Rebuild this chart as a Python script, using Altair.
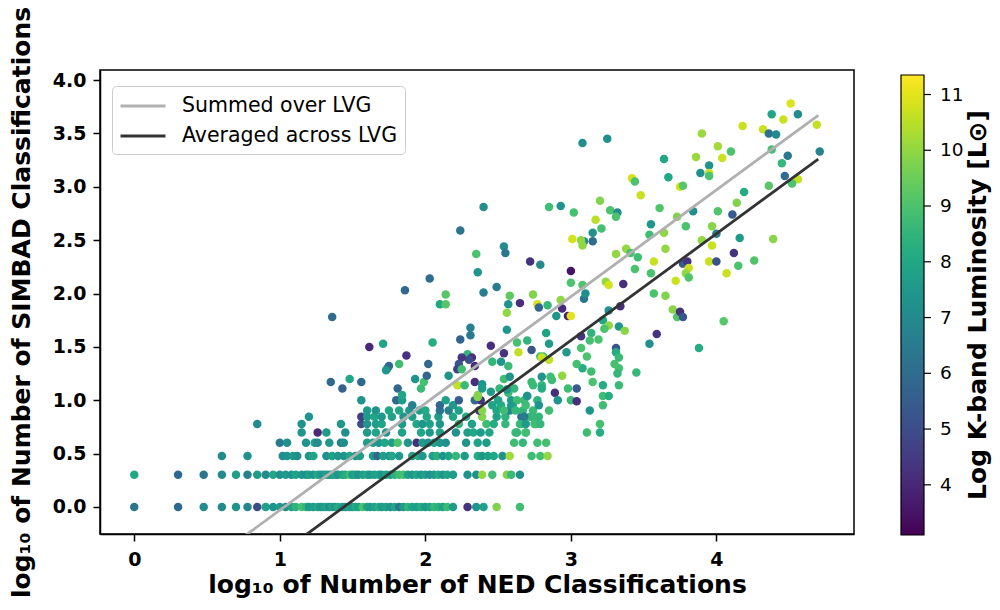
import altair as alt
import pandas as pd

# ---------------- data ----------------
# lower "discrete" rows: log10(SIMBAD count) values
row_y = [0.0, 0.301, 0.477, 0.602, 0.699, 0.778, 0.845, 0.903, 0.954, 1.0]

row0_x = [0, 0.301, 0.477, 0.602, 0.699, 0.778, 0.845, 0.903,
          0.954, 1.0, 1.04, 1.08, 1.11, 1.15, 1.18, 1.2, 1.23, 1.26,
          1.28, 1.3, 1.32, 1.34, 1.36, 1.38, 1.4, 1.43, 1.45, 1.48,
          1.5, 1.52, 1.54, 1.57, 1.6, 1.62, 1.65, 1.68, 1.7, 1.73,
          1.76, 1.79, 1.82, 1.85, 1.88, 1.91, 1.94, 1.97, 2.0, 2.03,
          2.06, 2.09, 2.12, 2.15, 2.19,
          2.29, 2.35, 2.40, 2.49, 2.65]
row0_L = [6.3, 5.9, 7.0, 7.0, 7.4, 6.9, 5.0, 7.8,
          7.3, 7.6, 7.2, 7.8, 8.4, 8.9, 8.6, 7.5, 7.7, 8.0,
          7.4, 7.6, 7.9, 7.2, 7.8, 7.5, 8.1, 7.6, 7.3, 7.9,
          7.5, 8.2, 7.8, 9.0, 8.0, 7.6, 7.9, 8.3, 7.6, 7.8,
          7.4, 8.0, 6.4, 7.6, 8.5, 7.9, 7.7, 8.2, 7.6, 7.9,
          8.6, 8.4, 7.9, 8.7, 7.6,
          4.3, 7.4, 7.8, 9.8, 8.8]

row1_x = [0, 0.301, 0.477, 0.602, 0.699, 0.778, 0.845, 0.903,
          0.954, 1.0, 1.04, 1.08, 1.11, 1.15, 1.18, 1.2, 1.23, 1.26,
          1.28, 1.3, 1.32, 1.34, 1.36, 1.38, 1.4, 1.43, 1.45, 1.48,
          1.5, 1.52, 1.54, 1.57, 1.6, 1.62, 1.65, 1.68, 1.7, 1.73,
          1.76, 1.79, 1.82, 1.85, 1.88, 1.91, 1.94, 1.97, 2.0, 2.03,
          2.06, 2.09, 2.12, 2.15, 2.19,
          2.29, 2.35, 2.39, 2.46, 2.56, 2.59, 2.65]
row1_L = [8.0, 5.9, 6.3, 7.0, 7.7, 6.6, 7.6, 7.0,
          8.0, 7.2, 7.6, 7.3, 7.9, 7.5, 7.2, 7.8, 7.4, 8.1,
          7.6, 7.3, 7.9, 7.5, 7.7, 8.0, 7.4, 7.8, 8.2, 8.8,
          7.6, 7.9, 7.3, 7.8, 8.1, 7.5, 7.7, 8.0, 7.4, 7.9,
          7.6, 8.3, 8.8, 8.9, 7.7, 7.5, 8.0, 7.4, 7.8, 7.2,
          7.6, 8.1, 7.4, 7.9, 7.6,
          7.3, 7.2, 10.0, 8.8, 9.8, 8.7, 7.2]

row2_x = [0.602, 0.778, 1.02, 1.05, 1.09, 1.12, 1.2, 1.23, 1.32, 1.36,
          1.4, 1.44, 1.48, 1.52, 1.55, 1.64, 1.67, 1.71, 1.75, 1.77,
          1.82, 1.91, 1.95, 1.98, 2.05, 2.08, 2.12, 2.16, 2.21, 2.27,
          2.36, 2.39, 2.43, 2.47, 2.53, 2.58, 2.73, 2.79, 2.84]
row2_L = [7.0, 7.2, 7.0, 7.3, 7.6, 7.2, 7.4, 7.9, 7.2, 7.8,
          7.5, 7.3, 8.0, 7.4, 7.7, 7.6, 5.8, 7.8, 7.4, 8.0,
          7.6, 7.9, 8.2, 7.5, 7.7, 8.3, 7.4, 7.9, 8.6, 7.6,
          8.2, 7.5, 7.8, 8.0, 7.3, 10.2, 8.8, 8.9, 10.0]

row3_x = [1.0, 1.05, 1.18, 1.24, 1.26, 1.34, 1.42, 1.44, 1.6, 1.64,
          1.68, 1.72, 1.77, 1.81, 1.88, 1.94, 1.98, 2.02, 2.06, 2.1,
          2.14, 2.28, 2.36, 2.42, 2.61, 2.67, 2.77, 2.83]
row3_L = [6.4, 7.2, 7.3, 7.8, 7.0, 7.5, 6.6, 7.2, 7.6, 7.8,
          7.4, 8.0, 7.6, 9.0, 7.4, 4.2, 7.6, 7.3, 7.9, 7.5,
          7.2, 7.4, 7.8, 7.6, 8.8, 8.6, 8.8, 8.9]

row4_x = [1.15, 1.26, 1.32, 1.45, 1.6, 1.66, 1.73, 1.84, 1.97, 2.03,
          2.1, 2.21, 2.29, 2.33, 2.38, 2.44, 2.62, 2.69]
row4_L = [7.4, 4.0, 7.6, 7.2, 7.6, 7.9, 7.4, 7.8, 8.0, 7.5,
          7.8, 7.3, 7.7, 8.0, 7.6, 7.9, 8.7, 8.8]

row5_x = [0.845, 1.15, 1.42, 1.56, 1.6, 1.66, 1.7, 1.84, 1.94, 1.98,
          2.03, 2.1, 2.23, 2.32, 2.42, 2.47, 2.55, 2.66, 2.76]
row5_L = [7.0, 7.3, 7.5, 5.0, 7.4, 7.7, 7.9, 7.6, 8.0, 7.4,
          7.8, 7.5, 8.6, 7.8, 8.8, 8.2, 8.6, 8.8, 8.5]

row6_x = [1.2, 1.56, 1.6, 1.65, 1.7, 1.77, 1.85, 1.91, 2.01, 2.09,
          2.19, 2.28, 2.39, 2.49, 2.55, 2.66, 2.72, 2.78]
row6_L = [7.3, 4.6, 7.6, 8.0, 7.5, 7.8, 7.4, 7.7, 8.0, 7.6,
          7.9, 8.2, 9.8, 7.8, 8.4, 6.0, 8.7, 8.6]

row7_x = [1.6, 1.66, 1.75, 1.82, 1.89, 1.96, 2.0, 2.1, 2.16, 2.23,
          2.37, 2.39, 2.49, 2.58, 2.67, 2.74, 2.85]
row7_L = [7.6, 7.3, 7.9, 8.0, 7.5, 7.7, 8.1, 6.3, 6.6, 7.8,
          4.3, 9.9, 8.0, 6.7, 8.5, 8.7, 8.8]

row8_x = [1.91, 2.1, 2.19, 2.46, 2.52, 2.6, 2.69]
row8_L = [6.6, 5.8, 7.5, 7.9, 8.2, 7.6, 8.8]

row9_x = [1.56, 1.8, 1.84, 2.14, 2.23, 2.34, 2.38, 2.5, 2.59, 2.68, 2.77]
row9_L = [7.3, 5.8, 7.6, 7.8, 5.5, 5.9, 4.3, 8.0, 7.6, 8.7, 8.5]

# scattered points (log10 NED, log10 SIMBAD, log K-band luminosity)
mid_points = [
    (2.40, 2.81, 7.2), (2.85, 2.81, 8.8), (2.93, 2.82, 7.3), (3.02, 2.76, 8.9),
    (2.24, 2.59, 6.3), (3.01, 2.51, 10.8), (2.54, 2.44, 7.0), (2.55, 2.38, 6.4),
    (2.35, 2.37, 9.0), (2.72, 2.30, 4.3), (2.79, 2.27, 7.0), (2.36, 2.20, 7.3),
    (3.00, 2.21, 3.5), (3.00, 2.10, 9.0), (2.03, 2.14, 6.0), (1.86, 2.03, 5.9),
    (2.49, 2.06, 6.5), (2.40, 2.01, 6.6), (2.58, 1.98, 9.3), (2.14, 1.99, 9.2),
    (2.74, 1.99, 9.8), (2.10, 1.90, 8.0), (2.14, 1.90, 9.2), (2.57, 1.90, 7.3),
    (2.65, 1.91, 4.2), (2.77, 1.90, 10.8), (2.78, 1.87, 5.8), (2.84, 1.89, 8.6),
    (2.93, 1.94, 10.0), (2.94, 1.86, 4.1), (2.56, 1.82, 10.0), (2.90, 1.79, 7.5),
    (2.98, 1.79, 3.8), (3.00, 1.79, 11.0), (1.36, 1.78, 6.0), (2.31, 1.68, 6.7),
    (2.31, 1.61, 6.5), (2.24, 1.57, 5.7), (2.56, 1.66, 7.5), (2.83, 1.63, 7.9),
    (1.615, 1.50, 4.0), (1.71, 1.53, 7.9), (2.05, 1.54, 8.2), (1.87, 1.42, 4.3),
    (2.45, 1.51, 4.2), (2.63, 1.54, 8.9), (2.70, 1.56, 8.5), (2.85, 1.53, 7.6),
    (2.73, 1.47, 5.3), (2.54, 1.44, 4.3), (2.64, 1.45, 10.6), (1.74, 1.30, 7.2),
    (1.75, 1.32, 5.9), (1.82, 1.34, 8.8), (2.02, 1.34, 5.8), (2.29, 1.43, 8.5),
    (2.32, 1.40, 4.3), (2.30, 1.38, 5.0), (2.25, 1.40, 4.4), (2.23, 1.34, 5.2),
    (2.22, 1.29, 4.6), (2.25, 1.29, 8.8), (2.34, 1.32, 4.2), (2.46, 1.36, 8.6),
    (2.52, 1.36, 7.4), (2.57, 1.32, 8.7), (2.79, 1.41, 8.7), (2.81, 1.41, 8.9),
    (2.97, 1.45, 7.5), (2.85, 1.38, 10.6), (2.94, 1.23, 10.0), (1.35, 1.17, 5.9),
    (1.43, 1.11, 5.6), (1.48, 1.20, 8.0), (1.56, 1.17, 5.9), (1.81, 1.11, 5.8),
    (1.84, 1.05, 8.0), (1.93, 1.20, 7.4), (1.97, 1.11, 8.7), (1.99, 1.17, 8.9),
    (2.01, 1.23, 5.9), (2.16, 1.23, 7.3), (2.22, 1.14, 10.6), (2.27, 1.14, 8.7),
    (2.34, 1.17, 4.2), (2.39, 1.15, 7.4), (2.36, 1.05, 9.9), (2.39, 1.11, 7.6),
    (2.45, 1.08, 7.6), (2.51, 1.11, 8.6), (2.57, 1.07, 8.7), (2.61, 1.11, 8.6),
    (2.70, 1.04, 8.8), (2.74, 1.14, 8.7), (2.80, 1.14, 8.5), (2.87, 1.19, 8.7),
    (2.89, 1.07, 4.2), (2.98, 1.11, 8.8), (3.04, 1.11, 5.5), (1.73, 1.28, 7.4),
    (2.54, 1.20, 8.8), (2.58, 1.22, 7.4), (2.73, 1.17, 8.7), (2.80, 1.22, 7.3),
    (2.56, 1.10, 7.4), (2.36, 1.03, 9.8),
]

upper_points = [
    (4.51, 3.78, 10.9), (4.38, 3.68, 8.0), (4.56, 3.68, 7.0), (4.46, 3.63, 10.7),
    (4.18, 3.57, 10.7), (4.32, 3.54, 10.7), (4.36, 3.50, 6.2), (4.41, 3.49, 7.0),
    (4.69, 3.58, 10.6), (3.90, 3.50, 10.1), (3.08, 3.41, 7.2), (3.25, 3.45, 7.2),
    (4.01, 3.38, 10.2), (4.10, 3.33, 9.0), (4.04, 3.27, 10.7), (3.86, 3.28, 10.1),
    (3.64, 3.26, 8.0), (4.38, 3.35, 8.9), (4.49, 3.29, 6.4), (4.71, 3.33, 6.8),
    (4.45, 3.22, 8.6), (3.95, 3.20, 7.3), (3.89, 3.13, 7.2), (3.95, 3.13, 10.7),
    (3.95, 3.10, 9.0), (4.47, 3.10, 6.0), (4.56, 3.07, 10.6), (4.52, 3.03, 9.0),
    (3.42, 3.08, 10.8), (3.44, 3.05, 9.0), (3.67, 3.09, 8.0), (3.75, 3.00, 10.8),
    (3.77, 3.01, 9.2), (3.48, 2.92, 10.7), (4.36, 3.01, 9.2), (4.19, 2.95, 8.2),
    (3.20, 2.87, 9.8), (3.27, 2.78, 9.0), (3.32, 2.76, 7.0), (3.31, 2.72, 9.0),
    (3.17, 2.69, 10.5), (3.21, 2.61, 8.9), (3.15, 2.57, 7.3), (3.15, 2.49, 6.0),
    (3.09, 2.49, 7.0), (3.07, 2.50, 10.0), (3.08, 2.45, 10.0), (3.61, 2.80, 9.1),
    (3.73, 2.72, 9.8), (3.84, 2.77, 7.2), (3.79, 2.63, 9.0), (3.55, 2.65, 7.5),
    (3.97, 2.63, 9.9), (4.01, 2.77, 9.1), (4.14, 2.85, 9.8), (4.11, 2.74, 5.5),
    (3.54, 2.55, 8.8), (3.64, 2.57, 10.0), (3.90, 2.50, 10.0), (3.97, 2.45, 10.7),
    (4.00, 2.56, 6.6), (4.16, 2.52, 7.6), (4.39, 2.51, 9.9), (3.65, 2.42, 10.0),
    (3.38, 2.42, 10.0), (3.41, 2.38, 8.9), (3.31, 2.37, 10.0), (3.46, 2.34, 8.8),
    (3.57, 2.30, 10.7), (3.77, 2.28, 5.5), (3.80, 2.30, 4.3), (3.95, 2.30, 10.7),
    (4.00, 2.30, 5.2), (4.12, 2.38, 4.3), (4.26, 2.31, 9.1), (4.15, 2.26, 9.0),
    (4.07, 2.19, 10.7), (3.81, 2.24, 10.7), (3.79, 2.19, 10.0), (3.44, 2.23, 9.0),
    (3.55, 2.19, 9.0),
]

lower_right_points = [
    (3.81, 2.15, 9.1), (3.72, 2.12, 10.7), (3.08, 2.08, 9.0), (3.24, 2.11, 10.0),
    (3.26, 2.08, 10.8), (3.36, 2.09, 4.2), (3.57, 2.00, 9.0), (3.65, 1.98, 9.8),
    (3.70, 1.85, 9.9), (3.73, 1.78, 9.1), (3.75, 1.83, 4.3), (3.77, 1.78, 5.3),
    (4.05, 1.74, 9.2), (3.59, 1.62, 4.3), (3.54, 1.53, 7.2), (3.88, 1.49, 8.2),
    (3.09, 1.95, 6.4), (3.10, 2.00, 7.2), (3.22, 1.75, 8.0), (3.26, 1.84, 7.3),
    (3.34, 1.88, 4.2), (3.26, 1.70, 10.0), (3.33, 1.69, 7.5), (3.37, 1.65, 9.9),
    (3.23, 1.67, 9.0), (3.14, 1.63, 8.5), (3.07, 1.60, 4.3), (3.13, 1.56, 8.9),
    (3.19, 1.57, 9.0), (3.07, 1.49, 9.0), (3.11, 1.41, 9.0), (3.31, 1.49, 5.3),
    (3.31, 1.45, 8.2), (3.33, 1.40, 8.7), (3.30, 1.34, 8.9), (3.33, 1.30, 8.9),
    (3.32, 1.25, 8.6), (3.45, 1.26, 8.6), (3.33, 1.14, 8.7), (3.22, 1.14, 8.2),
    (3.14, 1.27, 8.8), (3.08, 1.30, 8.2), (3.04, 1.34, 8.9), (2.80, 1.40, 10.7),
    (3.00, 1.00, 8.7), (3.04, 0.99, 4.2), (2.91, 1.00, 7.3), (3.15, 1.17, 9.0),
    (3.22, 1.04, 8.8), (3.26, 1.04, 8.2), (3.22, 0.954, 8.8), (3.13, 0.903, 7.4),
    (3.20, 0.778, 8.9), (3.20, 0.699, 8.2), (3.11, 0.699, 8.8), (2.86, 1.22, 8.8),
    (2.80, 1.11, 8.2), (2.70, 1.041, 7.3), (2.63, 1.0, 8.8), (2.78, 0.954, 7.3),
    (2.59, 0.954, 7.6), (2.54, 0.903, 8.8), (2.62, 0.903, 8.6), (2.68, 0.845, 6.5),
    (2.74, 0.845, 8.6), (2.65, 0.778, 8.6), (2.69, 0.778, 7.6), (2.75, 0.778, 8.8),
    (2.79, 0.778, 8.6), (2.63, 0.699, 8.6), (2.69, 0.699, 8.8),
]

# fitted relations
fit_x = [0.0, 4.7]
summed_y = [-1.03, 3.67]
averaged_y = [-1.44, 3.26]
series_names = ["Summed over LVG", "Averaged across LVG"]
series_colors = ["#b0b0b0", "#333333"]

colorbar_title = "Log K-band Luminosity [L⊙]"
colorbar_ticks = [4, 5, 6, 7, 8, 9, 10, 11]
lum_domain = [3.1, 11.35]

# ---------------- build tables ----------------
rows_x = [row0_x, row1_x, row2_x, row3_x, row4_x, row5_x, row6_x, row7_x, row8_x, row9_x]
rows_L = [row0_L, row1_L, row2_L, row3_L, row4_L, row5_L, row6_L, row7_L, row8_L, row9_L]
recs = []
for yv, xs, ls in zip(row_y, rows_x, rows_L):
    for xv, lv in zip(xs, ls):
        recs.append({"ned": xv, "simbad": yv, "lum": lv})
for grp in (mid_points, upper_points, lower_right_points):
    for xv, yv, lv in grp:
        recs.append({"ned": xv, "simbad": yv, "lum": lv})
pts = pd.DataFrame(recs)

line_recs = []
for name, ys in zip(series_names, [summed_y, averaged_y]):
    for xv, yv in zip(fit_x, ys):
        line_recs.append({"ned": xv, "simbad": yv, "series": name})
lines = pd.DataFrame(line_recs)

FONT = "DejaVu Sans"
W, H = 754, 464
xscale = alt.Scale(domain=[-0.2355, 4.9455], nice=False, zero=False)
yscale = alt.Scale(domain=[-0.253, 4.094], nice=False, zero=False)

points = alt.Chart(pts).mark_circle(size=72, opacity=1).encode(
    x=alt.X("ned:Q", scale=xscale,
            title="log₁₀ of Number of NED Classifications",
            axis=alt.Axis(values=[0, 1, 2, 3, 4], format="d", titlePadding=3,
                          labelPadding=9)),
    y=alt.Y("simbad:Q", scale=yscale,
            title="log₁₀ of Number of SIMBAD Classifications",
            axis=alt.Axis(values=[0, 0.5, 1, 1.5, 2, 2.5, 3, 3.5, 4], format=".1f",
                          titlePadding=18, labelPadding=7)),
    color=alt.Color("lum:Q",
                    scale=alt.Scale(scheme="viridis", domain=lum_domain, nice=False, zero=False),
                    legend=alt.Legend(
                        title=None,
                        orient="none", legendX=801, legendY=5,
                        direction="vertical",
                        gradientLength=460, gradientThickness=23,
                        gradientStrokeColor="black", gradientStrokeWidth=1.2,
                        values=colorbar_ticks,
                        labelFontSize=18.5, labelFont=FONT, labelColor="black",
                        labelOffset=16,
                    )),
)

fits = alt.Chart(lines).mark_line(strokeWidth=2.8, clip=True).encode(
    x=alt.X("ned:Q", scale=xscale),
    y=alt.Y("simbad:Q", scale=yscale),
    stroke=alt.Stroke("series:N",
                      scale=alt.Scale(domain=series_names, range=series_colors),
                      legend=alt.Legend(
                          title=None, orient="none", legendX=12, legendY=16,
                          symbolType="M-2,0H2", symbolSize=506, symbolStrokeWidth=2.8,
                          symbolOffset=11,
                          labelFontSize=20.5, labelFont=FONT, labelColor="black",
                          labelLimit=500, labelOffset=26, rowPadding=6,
                          padding=7, fillColor="white", strokeColor="#cccccc",
                          cornerRadius=4,
                      )),
)

cbar_title = alt.Chart(pd.DataFrame({"t": [colorbar_title]})).mark_text(
    angle=270, font=FONT, fontSize=25, fontWeight="bold", color="black",
    align="center", baseline="middle",
).encode(
    text="t:N",
    x=alt.value(878),
    y=alt.value(235),
)

# small tick marks on the right edge of the colour bar
cbar_ticks = alt.Chart(pd.DataFrame({"v": colorbar_ticks})).mark_rule(
    color="black", strokeWidth=1.2
).encode(
    y=alt.Y("v:Q", scale=alt.Scale(domain=lum_domain, range=[465, 5], nice=False, zero=False),
            axis=None),
    x=alt.value(824),
    x2=alt.value(831),
)

main = alt.layer(points, fits, cbar_title)
chart = alt.layer(main, cbar_ticks).resolve_scale(y="independent").properties(
    width=W, height=H,
    autosize=alt.AutoSizeParams(type="none"),
    padding={"left": 92, "top": 62, "right": 138, "bottom": 66},
).configure_view(
    stroke="black", strokeWidth=1.5
).configure_axis(
    grid=False,
    labelFont=FONT, labelFontSize=19, labelFontWeight="bold", labelColor="black",
    titleFont=FONT, titleFontSize=25, titleFontWeight="bold", titleColor="black",
    domainColor="black", domainWidth=1.5, tickColor="black", tickSize=7, tickWidth=1.5,
)

chart.save("out.html", embed_options={"renderer": "svg", "actions": False})
